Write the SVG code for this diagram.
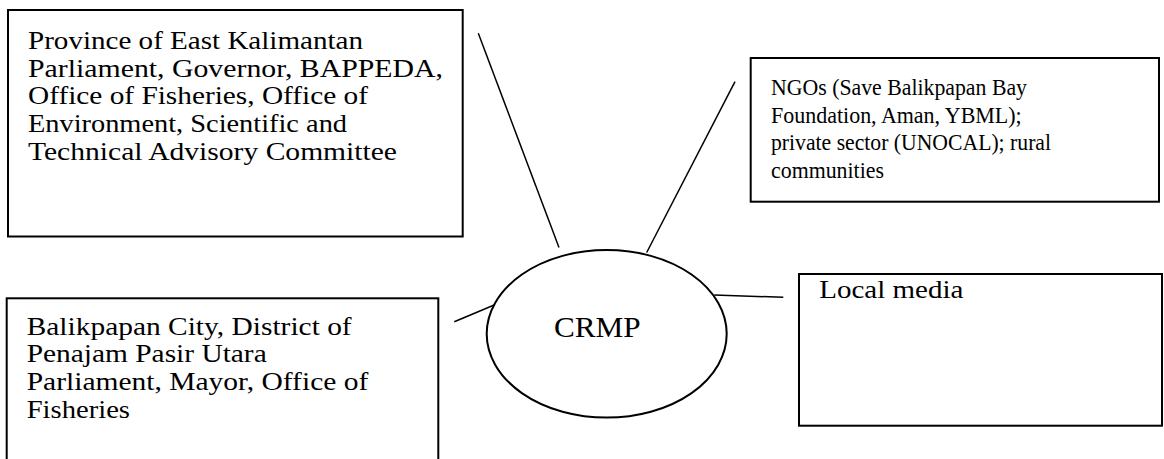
<svg xmlns="http://www.w3.org/2000/svg" width="1164" height="459" viewBox="0 0 1164 459">
<style>
.box{fill:#fff;stroke:#000;stroke-width:2}
.t{font-family:"Liberation Serif","Times New Roman",serif;font-size:25px;fill:#000}
.ts{font-family:"Liberation Serif","Times New Roman",serif;font-size:24px;fill:#000}
.c{stroke:#000;stroke-width:1.5;fill:none}
</style>
<rect width="1164" height="459" fill="#fff"/>
<g id="connectors">
<line class="c" x1="478.3" y1="33.3" x2="559" y2="247.5"/>
<line class="c" x1="735" y1="81.7" x2="646.7" y2="252.5"/>
<line class="c" x1="454.3" y1="321.7" x2="498.3" y2="303.3"/>
<line class="c" x1="714.3" y1="295" x2="783.3" y2="297.3"/>
</g>
<g id="province">
<rect class="box" x="8" y="10" width="454.7" height="226.5"/>
<text class="t" x="28" y="49" textLength="335" lengthAdjust="spacingAndGlyphs">Province of East Kalimantan</text>
<text class="t" x="28" y="76.7" textLength="415" lengthAdjust="spacingAndGlyphs">Parliament, Governor, BAPPEDA,</text>
<text class="t" x="28" y="104.4" textLength="340" lengthAdjust="spacingAndGlyphs">Office of Fisheries, Office of</text>
<text class="t" x="28" y="132" textLength="319" lengthAdjust="spacingAndGlyphs">Environment, Scientific and</text>
<text class="t" x="28" y="159.7" textLength="369" lengthAdjust="spacingAndGlyphs">Technical Advisory Committee</text>
</g>
<g id="ngos">
<rect class="box" x="750.7" y="58" width="408.3" height="143.7"/>
<text class="ts" x="771" y="95" textLength="256" lengthAdjust="spacingAndGlyphs">NGOs (Save Balikpapan Bay</text>
<text class="ts" x="771" y="122.5" textLength="250.7" lengthAdjust="spacingAndGlyphs">Foundation, Aman, YBML);</text>
<text class="ts" x="771" y="150" textLength="280" lengthAdjust="spacingAndGlyphs">private sector (UNOCAL); rural</text>
<text class="ts" x="771" y="177.5" textLength="113" lengthAdjust="spacingAndGlyphs">communities</text>
</g>
<g id="crmp">
<ellipse cx="606.7" cy="333.8" rx="120" ry="83.8" fill="#fff" stroke="#000" stroke-width="2"/>
<text x="554" y="336.7" font-family="'Liberation Serif','Times New Roman',serif" font-size="30" textLength="86.7" lengthAdjust="spacingAndGlyphs">CRMP</text>
</g>
<g id="balikpapan">
<rect class="box" x="6.7" y="298.3" width="431.6" height="170"/>
<text class="t" x="26.7" y="334.5" textLength="325" lengthAdjust="spacingAndGlyphs">Balikpapan City, District of</text>
<text class="t" x="26.7" y="362.2" textLength="240" lengthAdjust="spacingAndGlyphs">Penajam Pasir Utara</text>
<text class="t" x="26.7" y="389.9" textLength="341.6" lengthAdjust="spacingAndGlyphs">Parliament, Mayor, Office of</text>
<text class="t" x="26.7" y="417.6" textLength="103.3" lengthAdjust="spacingAndGlyphs">Fisheries</text>
</g>
<g id="local-media">
<rect class="box" x="799" y="274" width="363" height="151.7"/>
<text class="t" x="819.3" y="298.3" textLength="144" lengthAdjust="spacingAndGlyphs">Local media</text>
</g>
</svg>
